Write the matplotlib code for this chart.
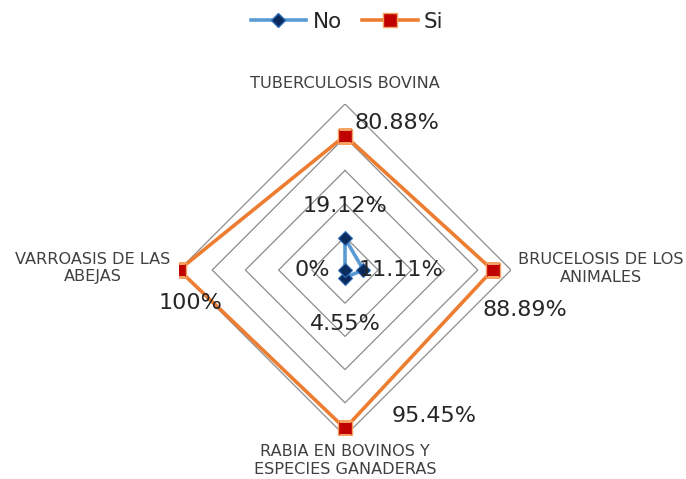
import numpy as np
import matplotlib
matplotlib.use("Agg")
import matplotlib.pyplot as plt
from matplotlib.lines import Line2D

categories = ["TUBERCULOSIS BOVINA", "BRUCELOSIS DE LOS\nANIMALES",
              "RABIA EN BOVINOS Y\nESPECIES GANADERAS", "VARROASIS DE LAS\nABEJAS"]
no_vals = [19.12, 11.11, 4.55, 0.0]
si_vals = [80.88, 88.89, 95.45, 100.0]
no_labels = ["19.12%", "11.11%", "4.55%", "0%"]
si_labels = ["80.88%", "88.89%", "95.45%", "100%"]
ring_levels = [20, 40, 60, 80, 100]

plt.rcParams['font.family'] = ['DejaVu Sans']

W, H = 686, 479
fig = plt.figure(figsize=(W / 100, H / 100), dpi=100)
cx, cy, R = 345, 270, 166
ax = fig.add_axes([(cx - R) / W, (H - cy - R) / H, 2 * R / W, 2 * R / H], projection='polar')
ax.set_theta_zero_location('N')
ax.set_theta_direction(-1)
ax.set_ylim(0, 100)
ax.grid(False)
ax.spines['polar'].set_visible(False)
ax.set_xticks([])
ax.set_yticks([])
ax.patch.set_alpha(0)

n = len(categories)
theta = np.arange(n) * 2 * np.pi / n
theta_c = np.append(theta, theta[0])

for lv in ring_levels:
    ax.plot(theta_c, [lv] * (n + 1), color='#8c8c8c', lw=0.9, zorder=1)

no_c = np.append(no_vals, no_vals[0])
si_c = np.append(si_vals, si_vals[0])
ax.plot(theta_c, no_c, color='#5b9bd5', lw=2.6, zorder=3)
ax.plot(theta, no_vals, ls='none', marker='D', ms=7, mfc='#0b2a5e', mec='#2e6bb5', mew=0.8, zorder=4)
ax.plot(theta_c, si_c, color='#ed7d31', lw=2.6, zorder=3)
ax.plot(theta, si_vals, ls='none', marker='s', ms=10, mfc='#c00000', mec='#f4a261', mew=1.0, zorder=4)

txt_col = '#262626'
cat_col = '#404040'
# data label offsets in pixels
si_off = [(52, 13), (32, -40), (89, 12), (12, -33)]
no_off = [(0, 32), (37, 0), (0, -46), (-33, 0)]
for i in range(n):
    ax.annotate(si_labels[i], (theta[i], si_vals[i]), xytext=si_off[i], textcoords='offset pixels',
                ha='center', va='center', fontsize=16, color=txt_col, zorder=5)
    ax.annotate(no_labels[i], (theta[i], no_vals[i]), xytext=no_off[i], textcoords='offset pixels',
                ha='center', va='center', fontsize=16, color=txt_col, zorder=5)

cat_off = [(0, 20), (90, 2), (0, -25), (-86, 2)]
for i in range(n):
    ax.annotate(categories[i], (theta[i], 100), xytext=cat_off[i], textcoords='offset pixels',
                ha='center', va='center', multialignment='center', fontsize=11.6,
                color=cat_col, linespacing=1.25, annotation_clip=False)

handles = [Line2D([], [], color='#5b9bd5', lw=2.6, marker='D', ms=7, mfc='#0b2a5e', mec='#2e6bb5'),
           Line2D([], [], color='#ed7d31', lw=2.6, marker='s', ms=10, mfc='#c00000', mec='#f4a261')]
fig.legend(handles, ["No", "Si"], loc='center', bbox_to_anchor=(347 / W, 1 - 22 / H), ncol=2,
           frameon=False, fontsize=15.5, handlelength=2.6, columnspacing=0.9, handletextpad=0.3,
           labelcolor=txt_col)

fig.savefig('out.png', dpi=100)
